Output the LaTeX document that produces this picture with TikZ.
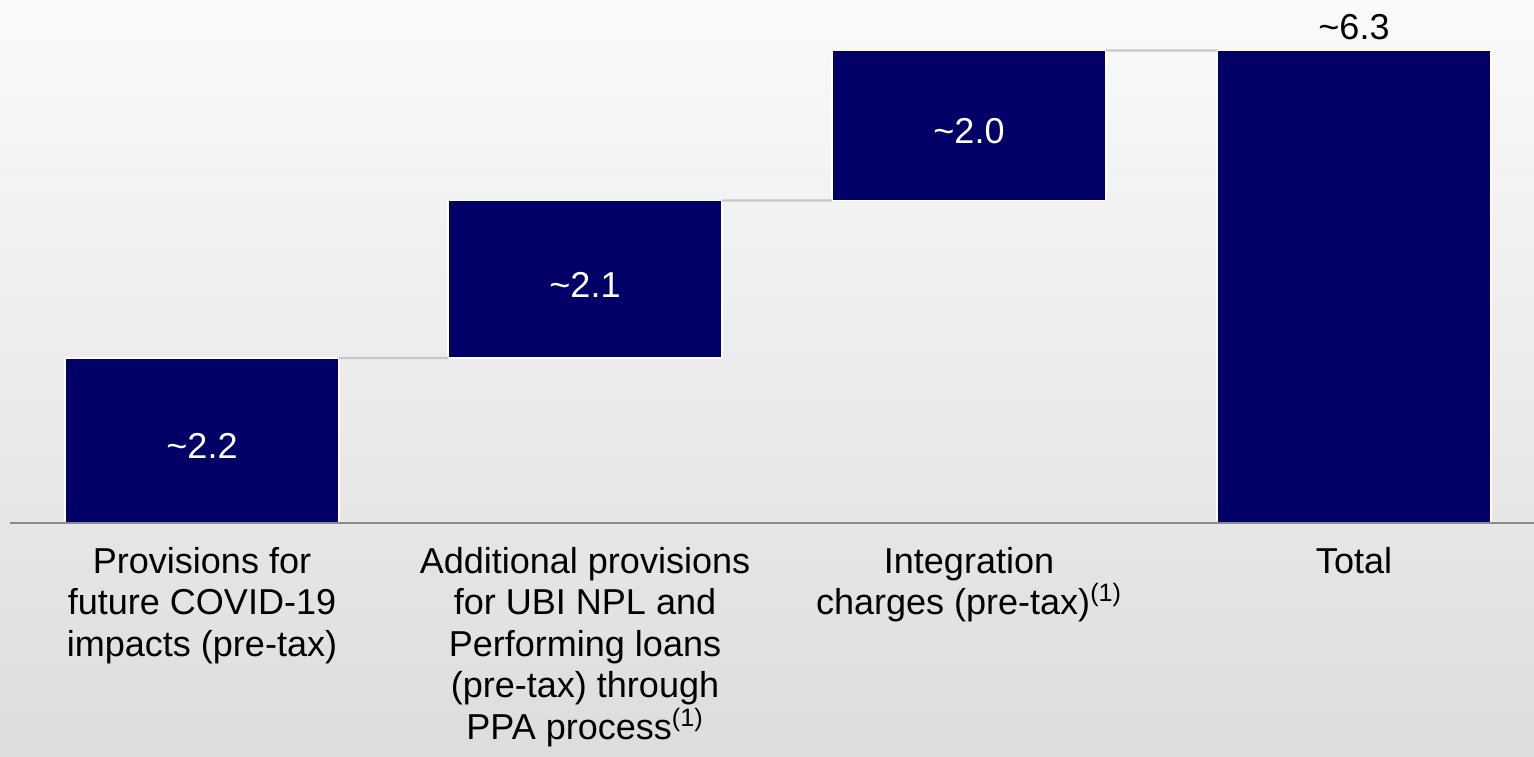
\documentclass[tikz,border=0pt]{standalone}
\usepackage{fontspec}
\setmainfont{Liberation Sans}
\usepackage{xcolor}
\usetikzlibrary{positioning}
\definecolor{navy}{HTML}{000066}
\definecolor{bgtop}{HTML}{FAFAFA}
\definecolor{bgbot}{HTML}{DDDDDD}
\definecolor{link}{HTML}{C8C8C8}
\definecolor{axis}{HTML}{8C8C8C}

\begin{document}
\begin{tikzpicture}[
		font=\fontsize{20.5}{23.6}\selectfont,
		bar/.style={
			anchor=south west,
			fill=navy, draw=white, line width=0.6pt,
			minimum width=5.48cm, inner sep=0, outer sep=0,
			text=white, text height=0.72cm, text depth=0pt
		},
		link/.style={draw=link, line width=1.2pt},
		cat/.style={below=0.48cm of #1.south |- base, anchor=north, align=center, inner sep=0}
	]
		\shade [top color=bgtop, bottom color=bgbot] (0,0) rectangle (30.68,15.12);
		\useasboundingbox (0,0) rectangle (30.68,15.12);
		\coordinate (base) at (0.2,4.66);
		\coordinate (baseend) at (30.68,4.66);
		%
		\node [bar, minimum height=3.3cm]  (covid) at (1.3,4.66)   {\textasciitilde2.2};
		\node [bar, minimum height=3.15cm] (ubi)   at (8.96,7.96)  {\textasciitilde2.1};
		\node [bar, minimum height=3.0cm]  (integ) at (16.64,11.11) {\textasciitilde2.0};
		\node [bar, minimum height=9.45cm] (total) at (24.34,4.66) {};
		\node [above=0.2cm of total, inner sep=0] (totval) {\textasciitilde6.3};
		%
		\draw [link] (covid.north east) -- (ubi.south west);
		\draw [link] (ubi.north east) -- (integ.south west);
		\draw [link] (integ.north east) -- (total.north west);
		%
		\draw [axis, line width=1.1pt] (base) -- (baseend);
		%
		\node [cat=covid] (lcovid) {Provisions for\\future COVID-19\\impacts (pre-tax)};
		\node [cat=ubi]   (lubi)   {Additional provisions\\for UBI NPL and\\Performing loans\\(pre-tax) through\\PPA process\textsuperscript{(1)}};
		\node [cat=integ] (linteg) {Integration\\charges (pre-tax)\textsuperscript{(1)}};
		\node [cat=total] (ltotal) {Total};
	\end{tikzpicture}
\end{document}
